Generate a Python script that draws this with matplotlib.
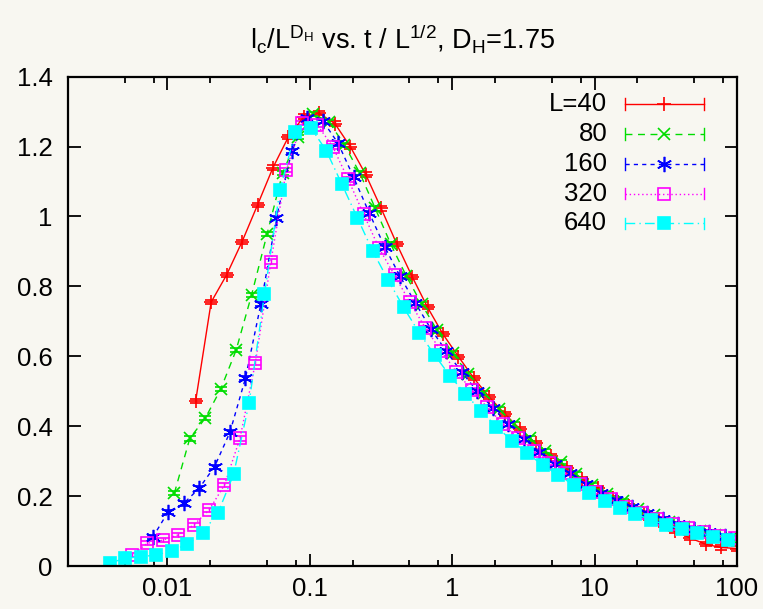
import numpy as np
import matplotlib
matplotlib.use('Agg')
import matplotlib.pyplot as plt
from matplotlib.lines import Line2D

# x = t / L^(1/2) values, y = l_c / L^D_H
x40 = [0.01578, 0.02026, 0.02602, 0.03341, 0.04289, 0.05508, 0.07072, 0.09081,
       0.1166, 0.1497, 0.1922, 0.2468, 0.3170, 0.4070, 0.5226, 0.6710, 0.8616,
       1.106, 1.420, 1.824, 2.342, 3.007, 3.861, 4.958, 6.366, 8.174, 10.50,
       13.48, 17.30, 22.22, 28.53, 36.63, 47.04, 60.40, 77.56, 99.58]
y40 = [0.473, 0.755, 0.833, 0.928, 1.033, 1.140, 1.228, 1.286, 1.295, 1.266,
       1.200, 1.120, 1.023, 0.922, 0.828, 0.740, 0.663, 0.599, 0.537, 0.483,
       0.435, 0.391, 0.351, 0.315, 0.280, 0.248, 0.222, 0.195, 0.172, 0.150,
       0.128, 0.100, 0.080, 0.062, 0.053, 0.050]

x80 = [0.01117, 0.01434, 0.01842, 0.02365, 0.03036, 0.03899, 0.05006, 0.06428,
       0.08254, 0.1060, 0.1361, 0.1747, 0.2244, 0.2881, 0.3699, 0.4750, 0.6099,
       0.7831, 1.005, 1.291, 1.658, 2.129, 2.733, 3.510, 4.506, 5.786, 7.430,
       9.540, 12.25, 15.73, 20.20, 25.93, 33.30, 42.75, 54.90, 70.49, 90.51]
y80 = [0.208, 0.365, 0.423, 0.506, 0.618, 0.776, 0.950, 1.124, 1.228, 1.293,
       1.271, 1.205, 1.124, 1.023, 0.921, 0.830, 0.749, 0.674, 0.610, 0.550,
       0.495, 0.449, 0.405, 0.365, 0.330, 0.298, 0.262, 0.231, 0.206, 0.186,
       0.164, 0.145, 0.127, 0.113, 0.101, 0.090, 0.079]

x160 = [0.00787, 0.01011, 0.01298, 0.01666, 0.02139, 0.02747, 0.03527, 0.04529,
        0.05815, 0.07467, 0.09587, 0.1231, 0.1581, 0.2030, 0.2606, 0.3346,
        0.4297, 0.5517, 0.7084, 0.9096, 1.168, 1.500, 1.926, 2.473, 3.175,
        4.077, 5.235, 6.721, 8.630, 11.08, 14.23, 18.27, 23.46, 30.12, 38.68,
        49.66, 63.77, 81.89]
y160 = [0.082, 0.155, 0.179, 0.222, 0.284, 0.383, 0.537, 0.750, 0.995, 1.188,
        1.281, 1.274, 1.209, 1.112, 1.011, 0.914, 0.829, 0.752, 0.678, 0.614,
        0.554, 0.500, 0.453, 0.406, 0.364, 0.327, 0.293, 0.265, 0.235, 0.210,
        0.190, 0.169, 0.151, 0.134, 0.119, 0.107, 0.096, 0.085]

x320 = [0.00561, 0.00720, 0.00925, 0.01188, 0.01525, 0.01958, 0.02514, 0.03228,
        0.04145, 0.05323, 0.06834, 0.08776, 0.1127, 0.1447, 0.1858, 0.2385,
        0.3063, 0.3933, 0.5050, 0.6484, 0.8326, 1.069, 1.373, 1.763, 2.263,
        2.906, 3.731, 4.791, 6.152, 7.900, 10.14, 13.02, 16.72, 21.47, 27.57,
        35.40, 45.46, 58.37, 74.95, 96.23]
y320 = [0.031, 0.065, 0.074, 0.089, 0.117, 0.160, 0.232, 0.365, 0.582, 0.871,
        1.133, 1.267, 1.262, 1.200, 1.106, 1.007, 0.909, 0.832, 0.754, 0.681,
        0.616, 0.556, 0.503, 0.454, 0.407, 0.365, 0.328, 0.294, 0.266, 0.236,
        0.211, 0.191, 0.169, 0.151, 0.134, 0.120, 0.108, 0.097, 0.086, 0.079]

x640 = [0.00394, 0.00506, 0.00650, 0.00834, 0.01071, 0.01375, 0.01766, 0.02267,
        0.02911, 0.03738, 0.04800, 0.06163, 0.07914, 0.1016, 0.1305, 0.1675,
        0.2151, 0.2762, 0.3547, 0.4554, 0.5847, 0.7508, 0.9641, 1.238, 1.590,
        2.041, 2.621, 3.365, 4.321, 5.548, 7.124, 9.147, 11.75, 15.08, 19.36,
        24.86, 31.93, 41.00, 52.64, 67.59, 86.78]
y640 = [0.009, 0.022, 0.027, 0.031, 0.044, 0.062, 0.095, 0.153, 0.262, 0.465,
        0.778, 1.076, 1.243, 1.254, 1.188, 1.093, 0.997, 0.901, 0.818, 0.740,
        0.668, 0.604, 0.544, 0.492, 0.444, 0.399, 0.359, 0.322, 0.289, 0.260,
        0.232, 0.208, 0.187, 0.167, 0.149, 0.132, 0.117, 0.106, 0.095, 0.084,
        0.074]

labels = ['L=40', '80', '160', '320', '640']
yerr = 0.006

BG = '#f8f7f1'
FS = 18.5
STYLES = [
    dict(color='#ff0000', ls='-', marker='+', ms=10, mfc='none'),
    dict(color='#00dd00', ls=(0, (5, 4)), marker='x', ms=9, mfc='none'),
    dict(color='#0000ff', ls=(0, (3, 3)), marker=(6, 2, 0), ms=11, mfc='none'),
    dict(color='#ff00ff', ls=(0, (1, 2)), marker='s', ms=9, mfc='none'),
    dict(color='#00ffff', ls=(0, (7, 3, 1, 3)), marker='s', ms=9, mfc='#00ffff'),
]


def draw_key(ax, row, label, st):
    '''gnuplot-like key entry: label on the left, |--o--| sample on the right'''
    y = 0.944 - row * 0.061
    x1, x2 = 0.833, 0.950
    ax.text(0.806, y, label, transform=ax.transAxes, ha='right', va='center',
            fontsize=FS)
    ax.add_line(Line2D([x1, x2], [y, y], transform=ax.transAxes,
                       color=st['color'], ls=st['ls'], lw=1.0))
    for xe in (x1, x2):
        ax.add_line(Line2D([xe, xe], [y - 0.012, y + 0.012],
                           transform=ax.transAxes, color=st['color'], lw=1.0))
    ax.add_line(Line2D([(x1 + x2) / 2], [y], transform=ax.transAxes,
                       color=st['color'], marker=st['marker'], ms=st['ms'],
                       mfc=st['mfc'], mew=1.2, ls='none'))


def main():
    plt.rcParams['font.family'] = ['Liberation Sans', 'DejaVu Sans']
    fig = plt.figure(figsize=(7.63, 6.09), dpi=100, facecolor=BG)
    ax = fig.add_axes([0.0891, 0.0706, 0.8768, 0.8035], facecolor=BG)

    series = [(x40, y40), (x80, y80), (x160, y160), (x320, y320), (x640, y640)]
    for (x, y), st in zip(series, STYLES):
        ax.errorbar(x, y, yerr=yerr, color=st['color'], ls=st['ls'], lw=1.0,
                    marker=st['marker'], ms=st['ms'], mfc=st['mfc'], mew=1.2,
                    elinewidth=1.0, capsize=4, capthick=1.0)

    for i, (lab, st) in enumerate(zip(labels, STYLES)):
        draw_key(ax, i, lab, st)

    ax.set_xscale('log')
    ax.set_xlim(0.002, 100)
    ax.set_ylim(0, 1.4)
    ax.set_xticks([0.01, 0.1, 1, 10, 100])
    ax.set_xticklabels(['0.01', '0.1', '1', '10', '100'])
    minors = [m * 10.0 ** e for e in range(-3, 2) for m in (2, 5, 8)]
    ax.set_xticks([m for m in minors if 0.002 <= m <= 100], minor=True)
    ax.set_yticks(np.arange(0, 1.41, 0.2))
    ax.set_yticklabels(['0', '0.2', '0.4', '0.6', '0.8', '1', '1.2', '1.4'])
    ax.tick_params(which='both', direction='in', top=True, right=True,
                   labelsize=FS, width=1.3, color='black')
    ax.tick_params(which='major', length=9, pad=8)
    ax.tick_params(which='minor', length=4.5)
    ax.tick_params(axis='y', pad=11)
    for sp in ax.spines.values():
        sp.set_linewidth(1.6)

    ax.set_title(r'$\mathregular{l_c/L^{D_H}}$ vs. t / $\mathregular{L^{1/2}}$, '
                 r'$\mathregular{D_H}$=1.75', fontsize=19.5, pad=20)

    fig.savefig('out.png', dpi=100, facecolor=BG)


if __name__ == '__main__':
    main()
